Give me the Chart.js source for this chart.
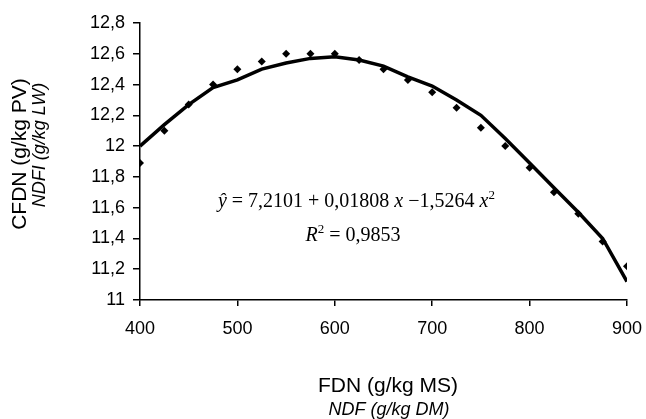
<!DOCTYPE html>
<html>
<head>
<meta charset="utf-8">
<script src="https://cdn.jsdelivr.net/npm/chart.js@4"></script>
<style>
  html, body { margin: 0; padding: 0; background: #fff; }
  #wrap { width: 646px; height: 419px; }
</style>
</head>
<body>
<div id="wrap"><canvas id="chart" width="646" height="419"></canvas></div>
<script>
// FDN levels (g/kg MS) and the intake
const fdn = [400, 425, 450, 475, 500, 525, 550, 575, 600, 625, 650, 675, 700, 725, 750, 775, 800, 825, 850, 875, 900]
const cfdnObserved = [11.89, 12.10, 12.27, 12.40, 12.50, 12.55, 12.60, 12.60, 12.60, 12.56, 12.50, 12.43, 12.35, 12.25, 12.12, 12.00, 11.86, 11.70, 11.56, 11.38, 11.22]
const cfdnFitted = [12.00, 12.14, 12.27, 12.38, 12.43, 12.50, 12.54, 12.57, 12.58, 12.56, 12.52, 12.45, 12.39, 12.30, 12.20, 12.05, 11.89, 11.73, 11.57, 11.40, 11.12]

const xTitle = 'FDN (g/kg MS)'
const xSubTitle = 'NDF (g/kg DM)'
const yTitle = 'CFDN (g/kg PV)'
const ySubTitle = 'NDFI (g/kg LW)'

const sans = "'Liberation Sans', Arial, sans-serif"
const serif = "'Liberation Serif', 'Times New Roman', serif"

const toPoints = (xs, ys) => xs.map((x, i) => ({ x: x, y: ys[i] }))

// draw a row of text pieces, each with its own font / offset
function drawPieces(ctx, x, y, pieces) {
    let cx = x
    pieces.forEach(p => {
        ctx.font = p.font
        ctx.fillText(p.text, cx, y + (p.dy || 0))
        cx += ctx.measureText(p.text).width
    })
}

const labelsPlugin = {
    id: 'labels',
    afterDraw(chart) {
        const ctx = chart.ctx
        const xs = chart.scales.x
        const ys = chart.scales.y
        ctx.save()
        ctx.fillStyle = '#000'
        ctx.textBaseline = 'middle'
        ctx.textAlign = 'center'

        // axis titles
        ctx.font = '21px ' + sans
        ctx.fillText(xTitle, 388, 386)
        ctx.font = 'italic 18px ' + sans
        ctx.fillText(xSubTitle, 389, 410)

        ctx.save()
        ctx.translate(20, 154)
        ctx.rotate(-Math.PI / 2)
        ctx.font = '21px ' + sans
        ctx.fillText(yTitle, 0, 0)
        ctx.restore()
        ctx.save()
        ctx.translate(40, 145)
        ctx.rotate(-Math.PI / 2)
        ctx.font = 'italic 18px ' + sans
        ctx.fillText(ySubTitle, 0, 0)
        ctx.restore()

        // regression equation
        ctx.textAlign = 'left'
        ctx.textBaseline = 'alphabetic'
        const reg = '20px ' + serif
        const ita = 'italic 20px ' + serif
        const sup = '13px ' + serif
        drawPieces(ctx, xs.getPixelForValue(480), ys.getPixelForValue(11.606), [
            { text: '\u0177', font: ita },
            { text: ' = 7,2101 + 0,01808 ', font: reg },
            { text: 'x', font: ita },
            { text: ' \u22121,5264 ', font: reg },
            { text: 'x', font: ita },
            { text: '2', font: sup, dy: -8 }
        ])
        drawPieces(ctx, xs.getPixelForValue(570), ys.getPixelForValue(11.384), [
            { text: 'R', font: ita },
            { text: '2', font: sup, dy: -8 },
            { text: ' = 0,9853', font: reg }
        ])
        ctx.restore()
    }
}

const fmt = v => {
    const r = Math.round(v * 10) / 10
    return Number.isInteger(r) ? String(r) : r.toFixed(1).replace('.', ',')
}

new Chart(document.getElementById('chart'), {
    type: 'scatter',
    data: {
        datasets: [
            {
                label: 'Ajuste',
                data: toPoints(fdn, cfdnFitted),
                showLine: true,
                borderColor: '#000',
                borderWidth: 3.5,
                pointRadius: 0,
                tension: 0,
                order: 2
            },
            {
                label: 'Observado',
                data: toPoints(fdn, cfdnObserved),
                showLine: false,
                pointStyle: 'rectRot',
                pointRadius: 4,
                backgroundColor: '#000',
                borderColor: '#000',
                borderWidth: 0,
                order: 1
            }
        ]
    },
    options: {
        responsive: false,
        animation: false,
        layout: { padding: { top: 23, right: 19, left: 0, bottom: 0 } },
        plugins: {
            legend: { display: false },
            tooltip: { enabled: false }
        },
        scales: {
            x: {
                type: 'linear',
                min: 400,
                max: 900,
                afterFit: s => { s.height = 119; s.paddingLeft = 0; s.paddingRight = 0 },
                border: { color: '#000', width: 1.5 },
                grid: { drawOnChartArea: false, color: '#000', tickLength: 6, lineWidth: 1.5 },
                ticks: { stepSize: 100, color: '#000', padding: 12, maxRotation: 0, font: { family: sans, size: 18 } }
            },
            y: {
                min: 11,
                max: 12.8,
                afterFit: s => { s.width = 140 },
                border: { color: '#000', width: 1.5 },
                grid: { drawOnChartArea: false, color: '#000', tickLength: 7, lineWidth: 1.5 },
                ticks: { stepSize: 0.2, color: '#000', padding: 8, callback: fmt, font: { family: sans, size: 18 } }
            }
        }
    },
    plugins: [labelsPlugin]
})
</script>
</body>
</html>
